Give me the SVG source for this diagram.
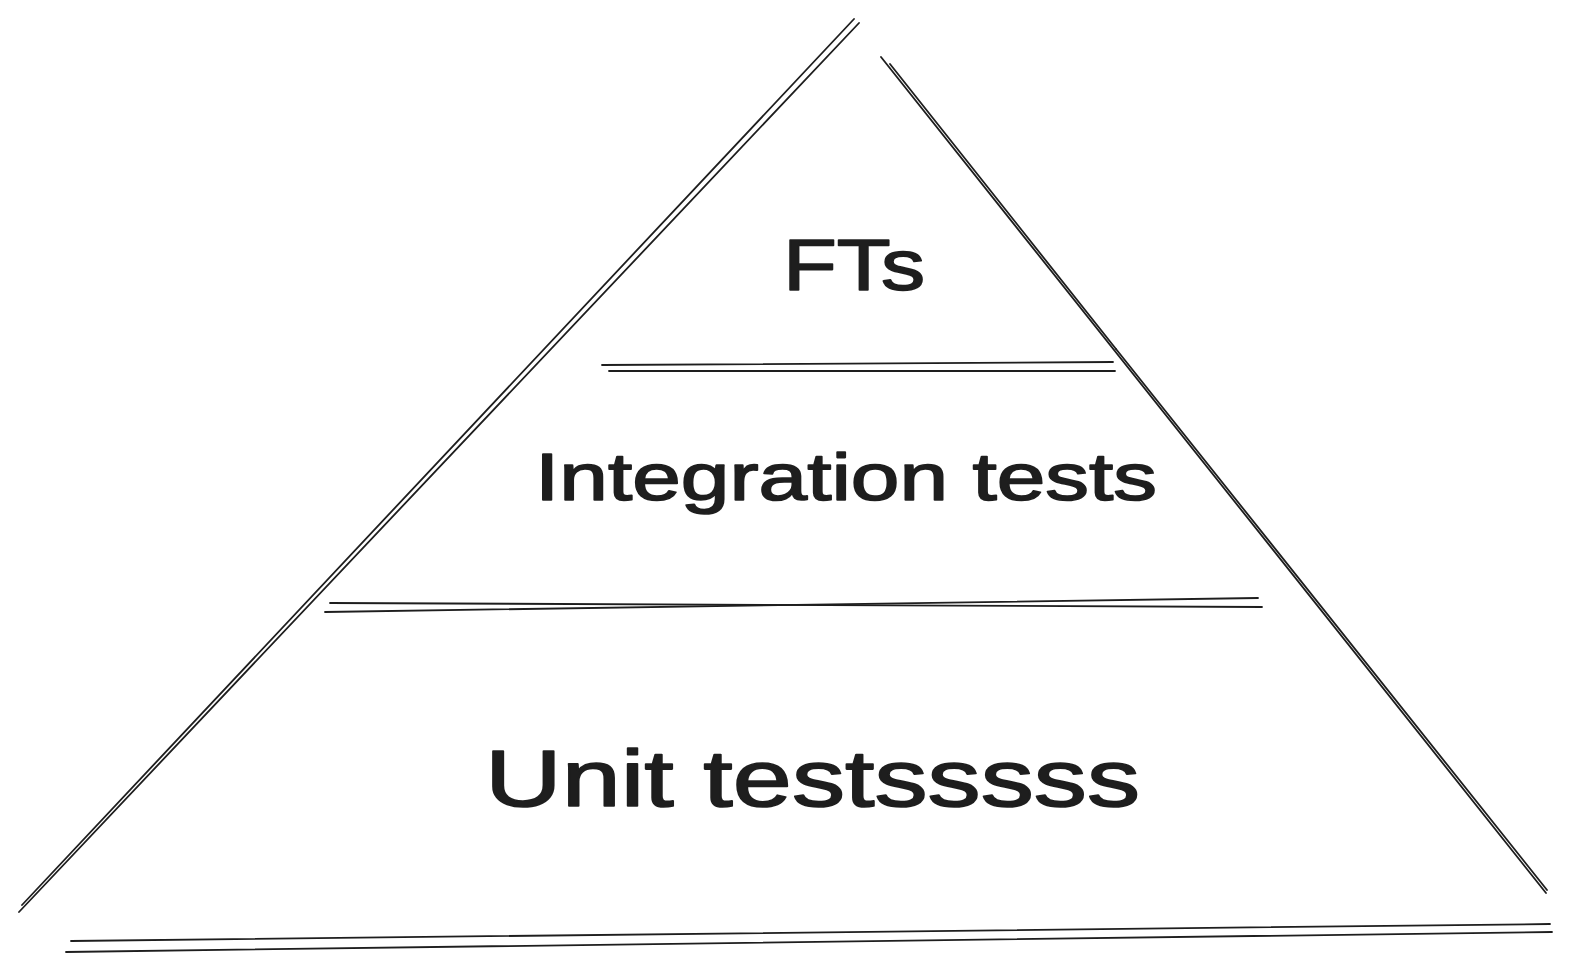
<svg xmlns="http://www.w3.org/2000/svg" width="1574" height="974" viewBox="0 0 1574 974">
<style>
.s{stroke:#1e1e1e;stroke-width:1.8;fill:none;stroke-linecap:round}
.t{fill:#1e1e1e;stroke:#1e1e1e;stroke-width:1.6;stroke-linejoin:round;font-family:"Liberation Sans","DejaVu Sans",sans-serif}
</style>
<rect width="1574" height="974" fill="#ffffff"/>
<g id="connectors">
<g id="left-side">
<line class="s" x1="854" y1="19" x2="22" y2="905"/>
<line class="s" x1="859" y1="23" x2="19" y2="912"/>
</g>
<g id="right-side">
<line class="s" x1="881" y1="57" x2="1546" y2="893"/>
<line class="s" x1="890" y1="64" x2="1116" y2="349"/>
<line class="s" x1="1116" y1="349" x2="1547" y2="890"/>
</g>
<g id="base">
<line class="s" x1="71" y1="941" x2="1550" y2="924"/>
<line class="s" x1="66" y1="952" x2="1552" y2="932"/>
</g>
<g id="divider-top">
<line class="s" x1="602" y1="365" x2="1113" y2="362"/>
<line class="s" x1="609" y1="371" x2="1115" y2="371"/>
</g>
<g id="divider-middle">
<path class="s" d="M330 603 Q760 606 1262 607"/>
<path class="s" d="M325 612 Q760 605 1258 598"/>
</g>
</g>
<g id="fts">
<text class="t" x="783" y="290" font-size="72" textLength="142" lengthAdjust="spacingAndGlyphs">FTs</text>
</g>
<g id="integration">
<text class="t" x="535" y="500" font-size="66" textLength="622" lengthAdjust="spacingAndGlyphs">Integration tests</text>
</g>
<g id="unit">
<text class="t" x="485" y="806" font-size="80" textLength="655" lengthAdjust="spacingAndGlyphs">Unit testsssss</text>
</g>
</svg>
